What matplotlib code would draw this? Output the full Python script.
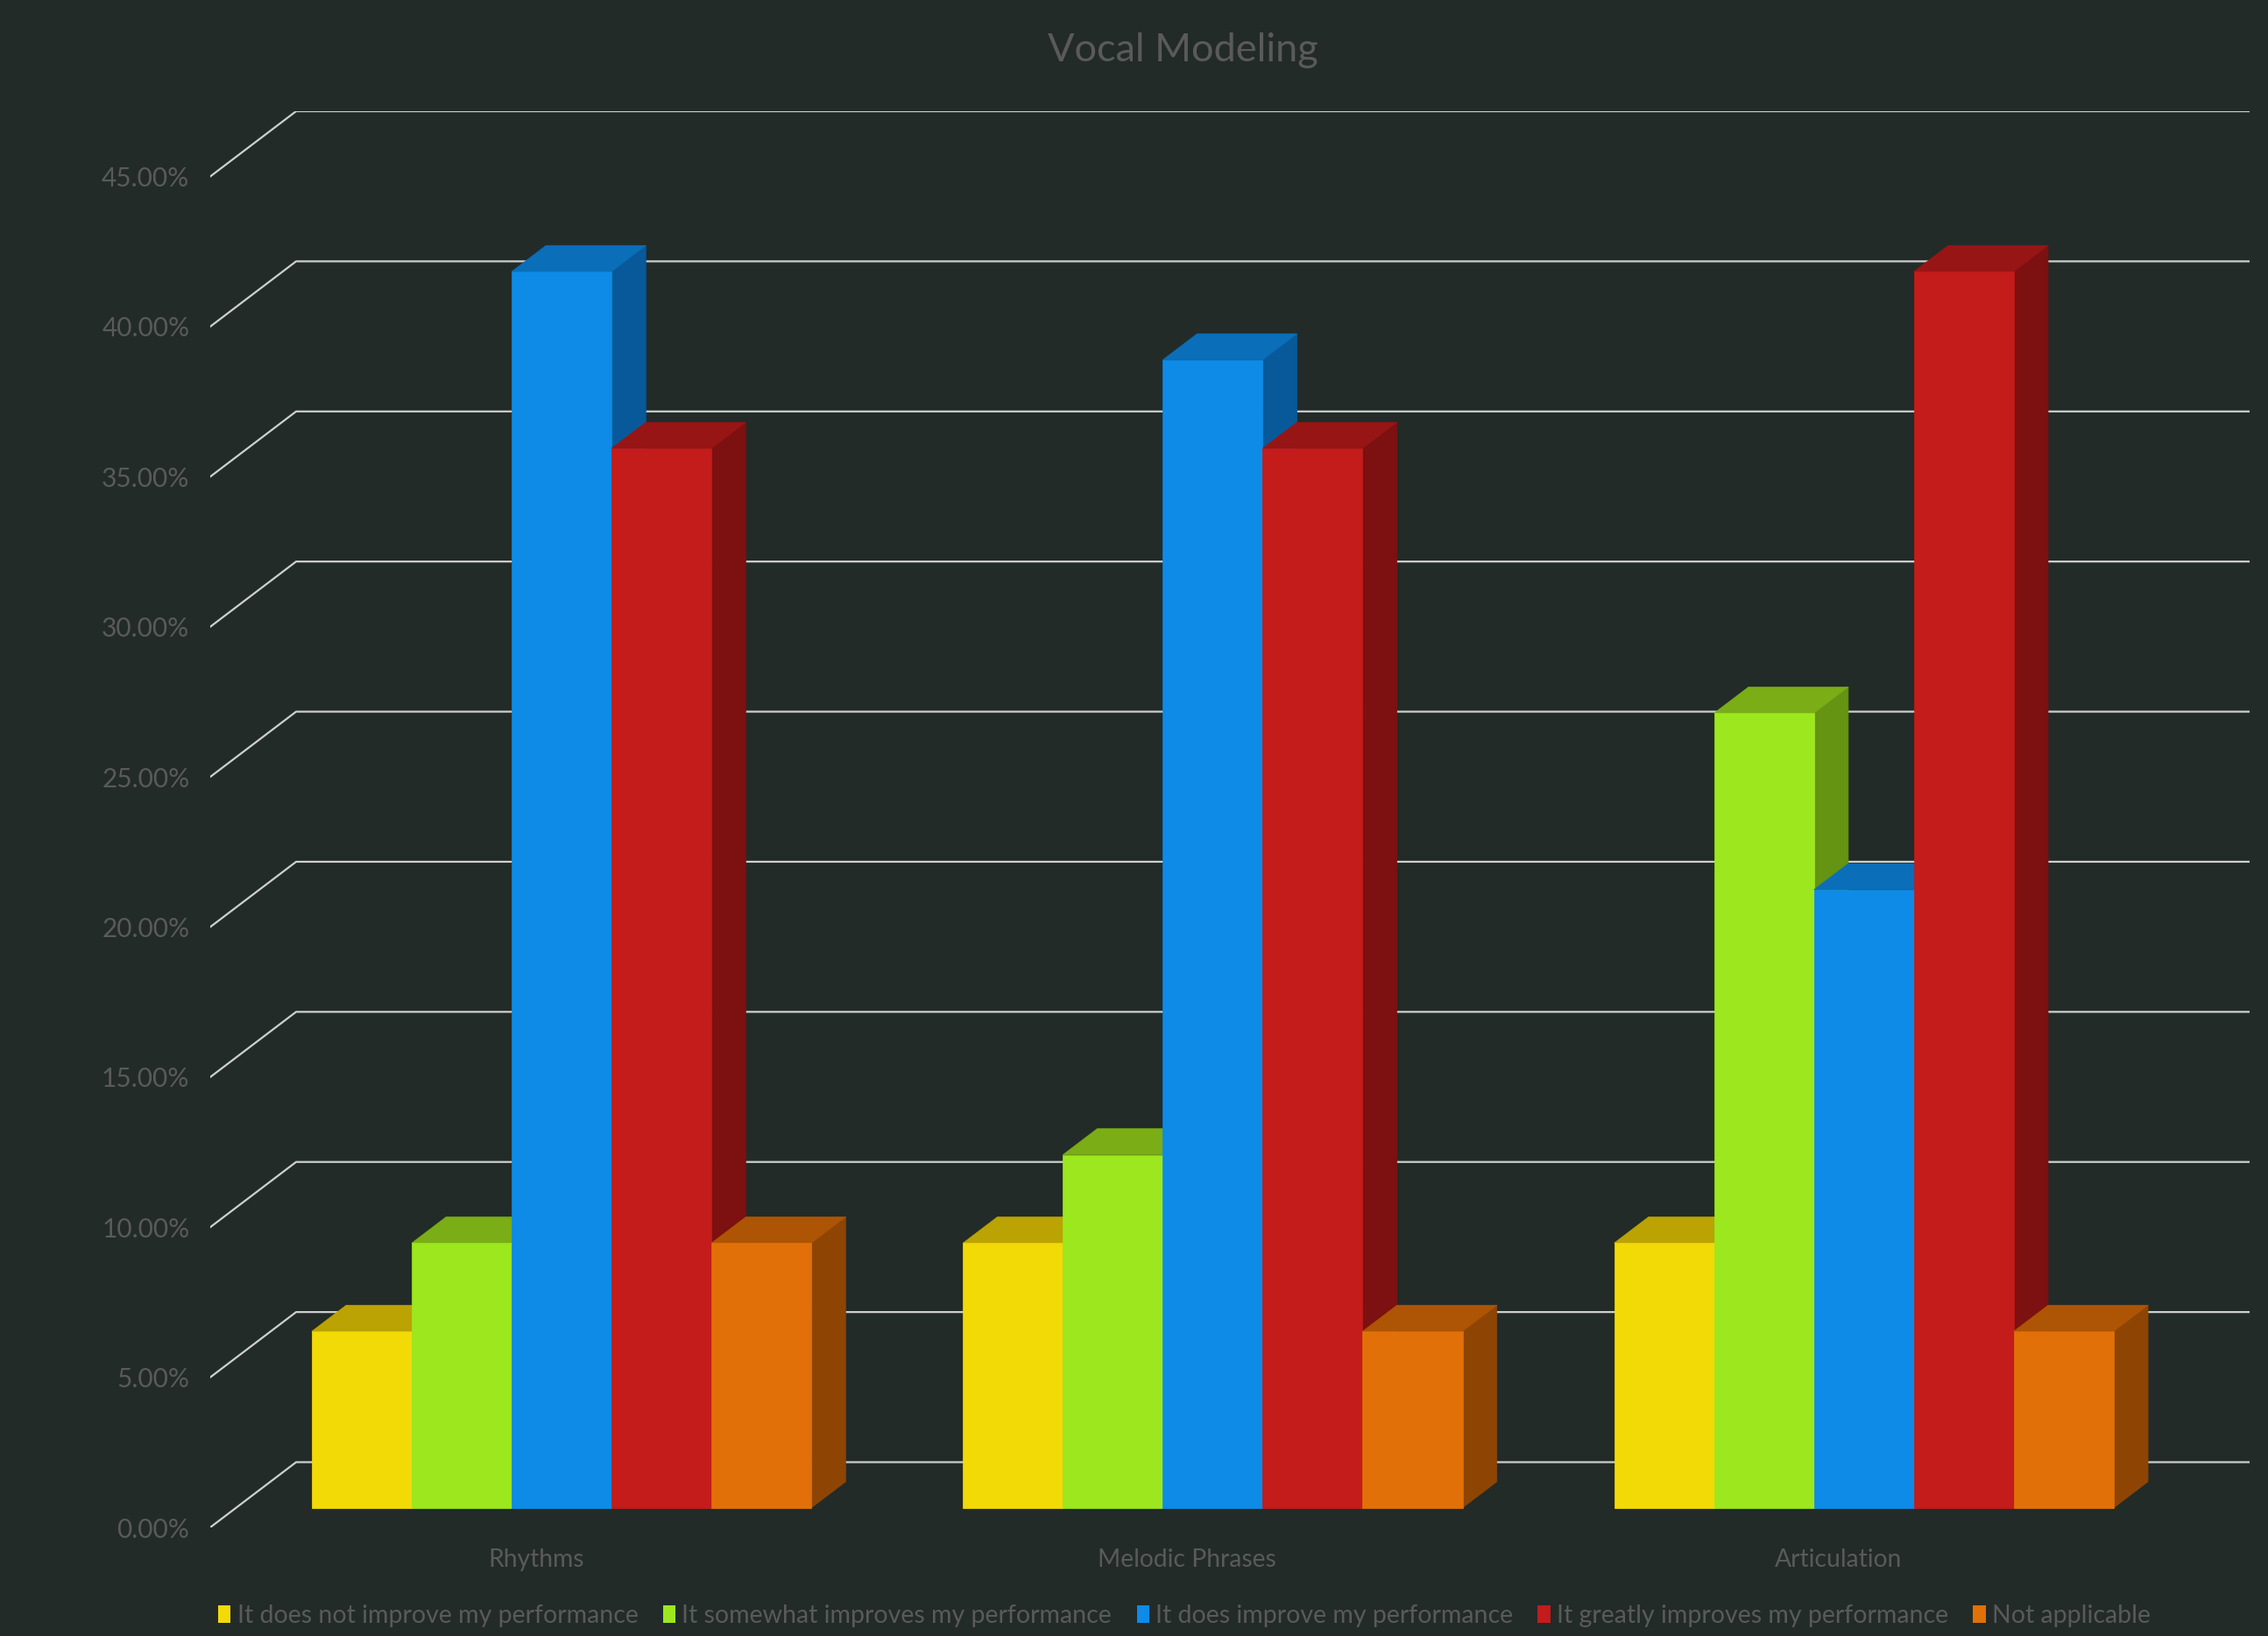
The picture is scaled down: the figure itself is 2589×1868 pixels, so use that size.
import matplotlib
matplotlib.use("Agg")
import matplotlib.pyplot as plt
from matplotlib.patches import Rectangle, Polygon, Patch
from matplotlib.ticker import StrMethodFormatter

plt.rcParams['font.family'] = ['Lato', 'DejaVu Sans']

title = "Vocal Modeling"
categories = ["Rhythms", "Melodic Phrases", "Articulation"]
series = [
    "It does not improve my performance",
    "It somewhat improves my performance",
    "It does improve my performance",
    "It greatly improves my performance",
    "Not applicable",
]
not_improve = [5.88, 8.82, 8.82]
somewhat = [8.82, 11.76, 26.47]
does_improve = [41.18, 38.24, 20.59]
greatly = [35.29, 35.29, 41.18]
not_applicable = [8.82, 5.88, 5.88]
values = [not_improve, somewhat, does_improve, greatly, not_applicable]
yticks = [0, 5, 10, 15, 20, 25, 30, 35, 40, 45]

front_colors = ["#F2DA07", "#9DE71E", "#0D8BE6", "#C41B1B", "#E27008"]
top_colors = ["#BAA302", "#7AAD16", "#0A6EB8", "#981515", "#AE5505"]
side_colors = ["#A08C02", "#649412", "#08599A", "#7D1010", "#8E4503"]

BG = "#222B28"
TXT = "#5A5A5A"
GRID = "#CFCFCF"

W, H = 2589, 1868
fig = plt.figure(figsize=(W / 100, H / 100), dpi=100, facecolor=BG)

# oblique depth offsets (category units, percent units)
DX = 98 / 743
DY = 2.173
ax = fig.add_axes([240 / W, 124 / H, 2328 / W, 1617 / H])
ax.set_facecolor(BG)
ax.set_xlim(-0.5, len(categories) - 0.5 + DX)
ax.set_ylim(0, 45 + DY)
for s in ax.spines.values():
    s.set_visible(False)

# gridlines (floor-side diagonal + back wall)
for v in yticks:
    ax.plot([-0.5, -0.5 + DX, len(categories) - 0.5 + DX], [v, v + DY, v + DY],
            color=GRID, lw=1.6, solid_joinstyle='miter', zorder=1)

bw = 114 / 743
z0, z1 = 0.3, 0.7
ns = len(series)
for i in range(len(categories)):
    for j in range(ns):
        v = values[j][i]
        x0 = i + (j - ns / 2) * bw
        fx, fy = x0 + z0 * DX, z0 * DY
        bx, by = x0 + z1 * DX, z1 * DY
        front = Rectangle((fx, fy), bw, v, facecolor=front_colors[j],
                          edgecolor=front_colors[j], lw=0.5, zorder=3)
        top = Polygon([(fx, fy + v), (fx + bw, fy + v), (bx + bw, by + v), (bx, by + v)],
                      closed=True, facecolor=top_colors[j], edgecolor=top_colors[j],
                      lw=0.5, zorder=3)
        side = Polygon([(fx + bw, fy), (bx + bw, by), (bx + bw, by + v), (fx + bw, fy + v)],
                       closed=True, facecolor=side_colors[j], edgecolor=side_colors[j],
                       lw=0.5, zorder=3)
        ax.add_patch(side)
        ax.add_patch(top)
        ax.add_patch(front)

ax.set_yticks(yticks)
ax.yaxis.set_major_formatter(StrMethodFormatter("{x:.2f}%"))
ax.set_xticks(range(len(categories)))
ax.set_xticklabels(categories)
ax.tick_params(axis='y', length=0, pad=17, labelsize=21.5, labelcolor=TXT)
ax.tick_params(axis='x', length=0, pad=17, labelsize=20.3, labelcolor=TXT)

fig.text(1350 / W, 1 - 58 / H, title, ha='center', va='center', fontsize=32.5, color=TXT)

handles = [Patch(facecolor=c, edgecolor='none') for c in front_colors]
fig.legend(handles, series, loc='center', bbox_to_anchor=(1352 / W, 23 / H), ncol=5,
           frameon=False, fontsize=20.5, labelcolor=TXT, handlelength=0.5, handleheight=0.75,
           handletextpad=0.25, columnspacing=1.0)

fig.savefig("out.png", dpi=100, facecolor=BG)
